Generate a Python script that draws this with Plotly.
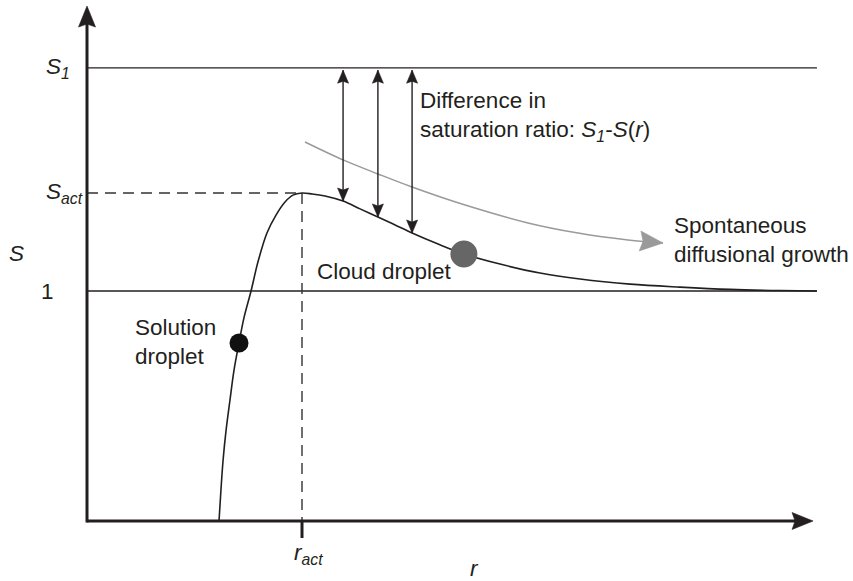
import numpy as np
import plotly.graph_objects as go

# Köhler curve S(r) in reduced units (r_act = 1)
r_curve = [0.614, 0.623, 0.633, 0.647, 0.665, 0.684, 0.707, 0.730, 0.763, 0.795,
           0.837, 0.879, 0.921, 0.958, 1.000,
           1.047, 1.107, 1.191, 1.270, 1.353, 1.433, 1.512, 1.633, 1.753, 1.921,
           2.107, 2.293, 2.526, 2.758, 2.991, 3.223, 3.395]
s_curve = [0.000, 0.135, 0.265, 0.396, 0.526, 0.657, 0.774, 0.883, 1.000, 1.126,
           1.252, 1.330, 1.387, 1.417, 1.426,
           1.422, 1.413, 1.391, 1.357, 1.322, 1.287, 1.252, 1.204, 1.161, 1.117,
           1.078, 1.052, 1.030, 1.017, 1.007, 1.002, 1.000]

S_1 = 1.97          # ambient saturation ratio
S_ACT = 1.426       # critical (activation) saturation ratio
R_ACT = 1.0         # activation radius
R_END = 3.395       # right end of the reference lines
R_AXIS_END = 3.377  # tip of the r axis
S_AXIS_END = 2.239  # tip of the S axis

# radii where the saturation-difference arrows are drawn
r_arrows = [1.191, 1.353, 1.512]

# droplet markers
r_solution = 0.707
r_cloud = 1.753

# path of the diffusional-growth arrow
r_growth = [1.014, 1.191, 1.353, 1.512, 1.744, 2.051, 2.284, 2.516, 2.679]
s_growth = [1.648, 1.570, 1.509, 1.452, 1.378, 1.296, 1.252, 1.222, 1.209]

INK = "#231f20"
GREY = "#9a9a9a"
FONT = "Liberation Sans, Arial, Helvetica, sans-serif"
FS = 22.5

W, H = 853, 581
X_RANGE = [-87 / 215, 766 / 215]
Y_RANGE = [-60 / 230, 521 / 230]
PX_X = W / (X_RANGE[1] - X_RANGE[0])   # pixels per r unit
PX_Y = H / (Y_RANGE[1] - Y_RANGE[0])   # pixels per S unit


def s_of(r):
    return float(np.interp(r, r_curve, s_curve))


fig = go.Figure()


def seg(x, y, width=1.3, color=INK, dash=None, shape="linear"):
    fig.add_trace(go.Scatter(
        x=x, y=y, mode="lines", hoverinfo="skip",
        line=dict(color=color, width=width, dash=dash, shape=shape),
    ))


def head(tip, frm, length, width, notch, color=INK):
    """Filled barbed arrow head with its point at `tip`, aimed from `frm`."""
    dx = (tip[0] - frm[0]) * PX_X
    dy = (tip[1] - frm[1]) * PX_Y
    n = np.hypot(dx, dy)
    ux, uy = dx / n, dy / n
    px, py = -uy, ux

    def to_data(ox, oy):
        return tip[0] + ox / PX_X, tip[1] + oy / PX_Y

    pts = [
        to_data(0, 0),
        to_data(-length * ux + width / 2 * px, -length * uy + width / 2 * py),
        to_data(-(length - notch) * ux, -(length - notch) * uy),
        to_data(-length * ux - width / 2 * px, -length * uy - width / 2 * py),
        to_data(0, 0),
    ]
    fig.add_trace(go.Scatter(
        x=[p[0] for p in pts], y=[p[1] for p in pts], mode="lines",
        fill="toself", fillcolor=color, line=dict(color=color, width=0.6),
        hoverinfo="skip",
    ))


def label(x, y, text, anchor="left", size=FS):
    fig.add_annotation(
        x=x, y=y, xref="x", yref="y", text=text, showarrow=False,
        xanchor=anchor, yanchor="middle", align="left",
        font=dict(family=FONT, size=size, color=INK),
    )


# reference levels S = 1 and S = S_1
seg([0, R_END], [1, 1])
seg([0, R_END], [S_1, S_1])

# activation guides
seg([0, R_ACT], [S_ACT, S_ACT], width=1.4, color="#333333", dash="11px,7px")
seg([R_ACT, R_ACT], [S_ACT, 0], width=1.4, color="#333333", dash="11px,7px")
seg([R_ACT, R_ACT], [0, -0.074], width=3)

# growth arrow (grey)
seg(r_growth, s_growth, width=1.5, color=GREY, shape="spline")
head((r_growth[-1], s_growth[-1]), (r_growth[-2], s_growth[-2]), 23, 20, 3, color=GREY)

# Köhler curve
seg(r_curve, s_curve, width=1.6, shape="spline")

# saturation-difference arrows
for ra in r_arrows:
    sb = s_of(ra)
    top = S_1 - 0.01
    seg([ra, ra], [sb, top], width=1.4)
    head((ra, top), (ra, sb), 13, 11, 2)
    head((ra, sb), (ra, top), 13, 11, 2)

# droplets
fig.add_trace(go.Scatter(
    x=[r_solution], y=[s_of(r_solution)], mode="markers", hoverinfo="skip",
    marker=dict(size=19, color="#111111", line=dict(width=0)),
))
fig.add_trace(go.Scatter(
    x=[r_cloud], y=[s_of(r_cloud)], mode="markers", hoverinfo="skip",
    marker=dict(size=27, color="#666666", line=dict(width=0)),
))

# axes with arrow heads
seg([0, 0], [-0.007, S_AXIS_END - 17 / PX_Y], width=3)
seg([0, R_AXIS_END - 17 / PX_X], [0, 0], width=3)
head((0, S_AXIS_END), (0, 0), 21, 17, 3)
head((R_AXIS_END, 0), (0, 0), 21, 17, 3)

# axis labels
label(-0.198, S_1, "<i>S</i><sub><i>1</i></sub>")
label(-0.198, S_ACT, "<i>S</i><sub><i>act</i></sub>")
label(-0.326, 1.161, "<i>S</i>", anchor="center")
label(-0.186, 1.0, "1", anchor="center")
label(0.955, -0.145, "<i>r</i><sub><i>act</i></sub>")
label(1.80, -0.205, "<i>r</i>", anchor="center")

# annotations
label(1.540, 1.758, "Difference in<br>saturation ratio: <i>S</i><sub><i>1</i></sub>-<i>S</i>(<i>r</i>)")
label(1.060, 1.083, "Cloud droplet")
label(2.721, 1.220, "Spontaneous<br>diffusional growth")
label(0.214, 0.780, "Solution<br>droplet")

fig.update_layout(
    width=W, height=H,
    margin=dict(l=0, r=0, t=0, b=0),
    paper_bgcolor="white", plot_bgcolor="white",
    showlegend=False,
    xaxis=dict(visible=False, range=X_RANGE),
    yaxis=dict(visible=False, range=Y_RANGE),
)

fig.write_html("out.html")
